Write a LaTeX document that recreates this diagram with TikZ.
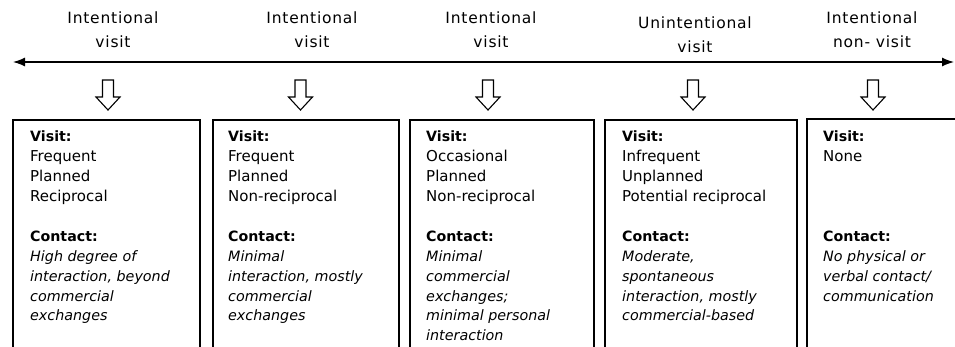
\documentclass[tikz,border=0pt]{standalone}
\usepackage{fontspec}
\setmainfont{DejaVu Sans}
\newfontfamily\headfont{DejaVu Sans}[LetterSpace=5]
\usetikzlibrary{arrows.meta}
\newcommand{\lbl}[1]{{\fontsize{14.2}{19.8}\selectfont\bfseries #1}}
\newcommand{\itl}[1]{{\fontsize{14.3}{19.8}\selectfont\itshape #1}}
\begin{document}
\begin{tikzpicture}[x=1pt,y=-1pt,
  head/.style={font=\headfont\fontsize{15.5}{23.3}\selectfont, align=center, inner sep=0pt, anchor=north},
  panel/.style={draw, line width=1.6pt, anchor=north west, minimum height=260pt, inner sep=0pt},
  body/.style={font=\fontsize{15}{19.8}\selectfont, align=left, inner sep=0pt, anchor=north west},
  downarrow/.pic={\draw[line width=1.1pt, fill=white, line join=miter]
      (-5.5,0) -- (-5.5,17) -- (-12,17) -- (0,30) -- (12,17) -- (5.5,17) -- (5.5,0) -- cycle;}]
\useasboundingbox (0,0) rectangle (955,346);
\clip (0,0) rectangle (955,346);

% timeline
\coordinate (L) at (13,62);
\coordinate (R) at (954,62);
\draw[line width=1.3pt, {Latex[length=12pt,width=9pt]}-{Latex[length=12pt,width=9pt]}] (L) -- (R);

% category labels
\node[head] (h1) at (113,12) {Intentional\\visit};
\node[head] (h2) at (312,12) {Intentional\\visit};
\node[head] (h3) at (491,12) {Intentional\\visit};
\node[head] (h4) at (695,17) {Unintentional\\visit};
\node[head] (h5) at (872,12) {Intentional\\non- visit};

% hollow down arrows
\pic at (108,80) {downarrow};
\pic at (300.5,80) {downarrow};
\pic at (488,80) {downarrow};
\pic at (693,80) {downarrow};
\pic at (873,80) {downarrow};

% panels
\node[panel, minimum width=187pt] (b1) at (12,119) {};
\node[panel, minimum width=186pt] (b2) at (212,119) {};
\node[panel, minimum width=184pt] (b3) at (409,119) {};
\node[panel, minimum width=192pt] (b4) at (604,119) {};
\node[panel, minimum width=170pt] (b5) at (806,118) {};

% visit descriptions
\node[body] (v1) at (30,131) {\lbl{Visit:}\\Frequent\\Planned\\Reciprocal};
\node[body] (v2) at (228,131) {\lbl{Visit:}\\Frequent\\Planned\\Non-reciprocal};
\node[body] (v3) at (426,131) {\lbl{Visit:}\\Occasional\\Planned\\Non-reciprocal};
\node[body] (v4) at (622,131) {\lbl{Visit:}\\Infrequent\\Unplanned\\Potential reciprocal};
\node[body] (v5) at (823,131) {\lbl{Visit:}\\None};

% contact descriptions
\node[body] (c1) at (30,231) {\lbl{Contact:}\\\itl{High degree of}\\\itl{interaction, beyond}\\\itl{commercial}\\\itl{exchanges}};
\node[body] (c2) at (228,231) {\lbl{Contact:}\\\itl{Minimal}\\\itl{interaction, mostly}\\\itl{commercial}\\\itl{exchanges}};
\node[body] (c3) at (426,231) {\lbl{Contact:}\\\itl{Minimal}\\\itl{commercial}\\\itl{exchanges;}\\\itl{minimal personal}\\\itl{interaction}};
\node[body] (c4) at (622,231) {\lbl{Contact:}\\\itl{Moderate,}\\\itl{spontaneous}\\\itl{interaction, mostly}\\\itl{commercial-based}};
\node[body] (c5) at (823,231) {\lbl{Contact:}\\\itl{No physical or}\\\itl{verbal contact/}\\\itl{communication}};
\end{tikzpicture}
\end{document}
